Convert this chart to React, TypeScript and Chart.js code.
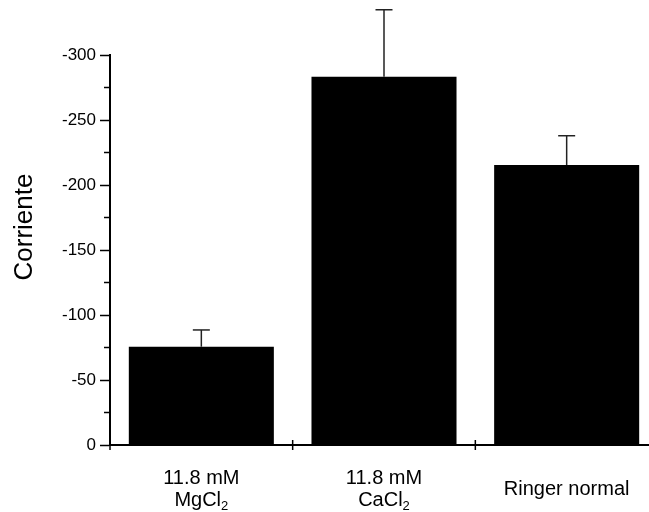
import React, { useEffect, useRef } from "react";
import { Chart, registerables } from "chart.js";

Chart.register(...registerables);

// ---- data ----
const labelLines: string[][] = [
  ["11.8 mM", "MgCl₂"],
  ["11.8 mM", "CaCl₂"],
  ["Ringer normal"],
];
const values: number[] = [-75.6, -283.3, -215.4];
const errors: number[] = [12.9, 51.5, 22.5];
const yMin = -300;
const yMax = 0;
const yStep = 50;
const minorTicks: number[] = [-25, -75, -125, -175, -225, -275];
const yTitle = "Corriente";

const FONT = "Arial, 'Liberation Sans', Helvetica, sans-serif";

function drawSubText(ctx: CanvasRenderingContext2D, text: string, cx: number, baseline: number, size: number) {
  // renders text with "₂" as a real subscript
  const parts = text.split("₂");
  const main = parts[0];
  const hasSub = parts.length > 1;
  ctx.font = `${size}px ${FONT}`;
  const wMain = ctx.measureText(main).width;
  const subSize = Math.round(size * 0.65);
  ctx.font = `${subSize}px ${FONT}`;
  const wSub = hasSub ? ctx.measureText("2").width : 0;
  const total = wMain + wSub;
  const x0 = cx - total / 2;
  ctx.textAlign = "left";
  ctx.textBaseline = "alphabetic";
  ctx.font = `${size}px ${FONT}`;
  ctx.fillText(main, x0, baseline);
  if (hasSub) {
    ctx.font = `${subSize}px ${FONT}`;
    ctx.fillText("2", x0 + wMain, baseline + size * 0.2);
  }
}

const customPlugin = {
  id: "customDecor",
  afterDatasetsDraw(chart: any) {
    const ctx: CanvasRenderingContext2D = chart.ctx;
    const y = chart.scales.y;
    const meta = chart.getDatasetMeta(0);
    ctx.save();
    ctx.strokeStyle = "#222";
    ctx.lineWidth = 1.5;
    values.forEach((v, i) => {
      const px = meta.data[i].x;
      const y0 = y.getPixelForValue(v);
      const y1 = y.getPixelForValue(v - errors[i]);
      ctx.beginPath();
      ctx.moveTo(px, y0);
      ctx.lineTo(px, y1);
      ctx.stroke();
      ctx.beginPath();
      ctx.moveTo(px - 8.5, y1);
      ctx.lineTo(px + 8.5, y1);
      ctx.stroke();
    });
    ctx.restore();
  },
  afterDraw(chart: any) {
    const ctx: CanvasRenderingContext2D = chart.ctx;
    const x = chart.scales.x;
    const y = chart.scales.y;
    const area = chart.chartArea;
    ctx.save();
    ctx.strokeStyle = "#000";
    ctx.lineWidth = 1.5;
    // minor y ticks
    minorTicks.forEach((v) => {
      const py = y.getPixelForValue(v);
      ctx.beginPath();
      ctx.moveTo(area.left - 6, py);
      ctx.lineTo(area.left, py);
      ctx.stroke();
    });
    // x ticks at category boundaries
    for (let i = 0; i <= labelLines.length; i++) {
      const px = x.getPixelForValue(i - 0.5);
      ctx.beginPath();
      ctx.moveTo(px, i === 0 ? area.bottom : area.bottom - 5);
      ctx.lineTo(px, area.bottom + 5);
      ctx.stroke();
    }
    // x labels
    ctx.fillStyle = "#000";
    labelLines.forEach((lines, i) => {
      const cx = x.getPixelForValue(i);
      if (lines.length === 1) {
        drawSubText(ctx, lines[0], cx, area.bottom + 50, 20);
      } else {
        drawSubText(ctx, lines[0], cx, area.bottom + 39, 20);
        drawSubText(ctx, lines[1], cx, area.bottom + 61, 20);
      }
    });
    // y title
    ctx.translate(25, 227);
    ctx.rotate(-Math.PI / 2);
    ctx.font = `26px ${FONT}`;
    ctx.textAlign = "center";
    ctx.textBaseline = "middle";
    ctx.fillText(yTitle, 0, 0);
    ctx.restore();
  },
};

export default function App() {
  const ref = useRef<HTMLCanvasElement>(null);
  useEffect(() => {
    if (!ref.current) return;
    const chart = new Chart(ref.current, {
      type: "bar",
      data: {
        labels: labelLines.map((l) => l.join(" ")),
        datasets: [
          {
            data: values,
            backgroundColor: "#000",
            borderWidth: 0,
            barPercentage: 0.794,
            categoryPercentage: 1,
          },
        ],
      },
      options: {
        responsive: false,
        animation: false,
        devicePixelRatio: 1,
        layout: { padding: { top: 55, right: 2, left: 0, bottom: 0 } },
        plugins: { legend: { display: false }, tooltip: { enabled: false } },
        scales: {
          x: {
            offset: true,
            grid: { display: false },
            border: { display: true, color: "#000", width: 2, z: 1 },
            ticks: { display: false },
            afterFit: (s: any) => {
              s.height = 67;
            },
          },
          y: {
            reverse: true,
            min: yMin,
            max: yMax,
            grid: {
              display: true,
              drawOnChartArea: false,
              drawTicks: true,
              tickLength: 10,
              tickColor: "#000",
              tickWidth: 1.5,
            },
            border: { display: true, color: "#000", width: 2, z: 1 },
            ticks: {
              stepSize: yStep,
              padding: 4,
              color: "#000",
              font: { family: FONT, size: 17 },
            },
            afterFit: (s: any) => {
              s.width = 110;
            },
          },
        },
      },
      plugins: [customPlugin],
    });
    return () => chart.destroy();
  }, []);
  return (
    <div
      style={{
        position: "fixed",
        left: 0,
        top: 0,
        width: 649,
        height: 512,
        overflow: "hidden",
        background: "#fff",
      }}
    >
      <canvas ref={ref} width={660} height={512} style={{ display: "block" }} />
    </div>
  );
}
